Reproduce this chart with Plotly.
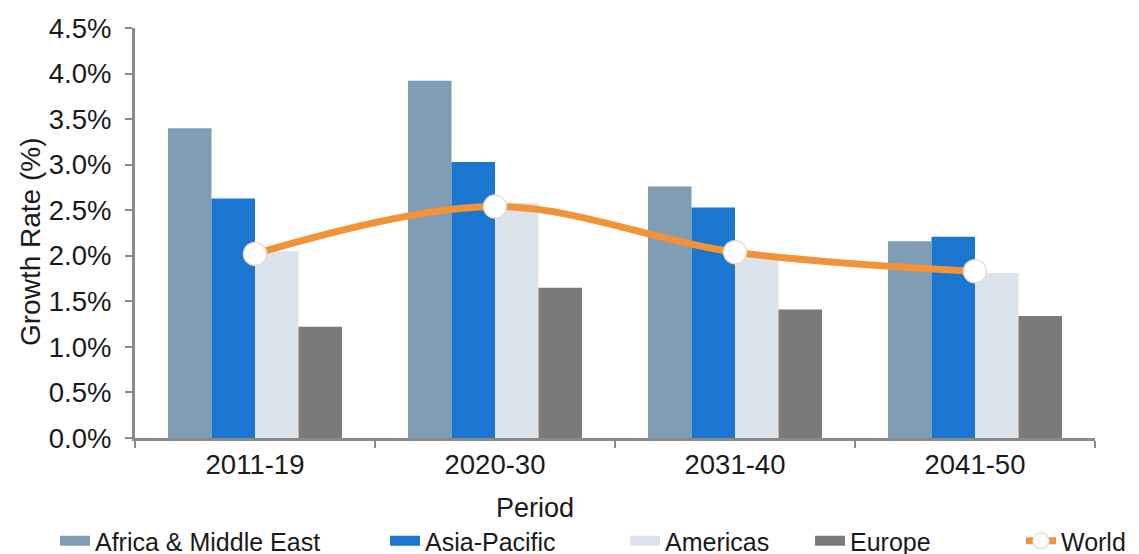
import plotly.graph_objects as go

periods = ["2011-19", "2020-30", "2031-40", "2041-50"]
africa_me = [3.40, 3.92, 2.76, 2.16]
asia_pacific = [2.63, 3.03, 2.53, 2.21]
americas = [2.05, 2.58, 2.00, 1.81]
europe = [1.22, 1.65, 1.41, 1.34]
world = [2.02, 2.54, 2.04, 1.83]
y_ticks = [0, 0.5, 1.0, 1.5, 2.0, 2.5, 3.0, 3.5, 4.0, 4.5]
y_tick_labels = ["0.0%", "0.5%", "1.0%", "1.5%", "2.0%", "2.5%", "3.0%", "3.5%", "4.0%", "4.5%"]

FONT = "Liberation Sans, Arial, sans-serif"
OFF = 8  # page body margin
W, H = 1139 - 2 * OFF, 554 - OFF
L, T = 135 - OFF, 28 - OFF
R = W - (1095 - OFF)
B = H - (438 - OFF)
PW = W - L - R
PH = H - T - B

def px_to_paper_x(px):
    return (px - OFF - L) / PW

def px_to_paper_y(py):
    return (H - B - (py - OFF)) / PH

bar_series = [
    ("Africa & Middle East", africa_me, "#7f9db4", "legend"),
    ("Asia-Pacific", asia_pacific, "#1b76cf", "legend2"),
    ("Americas", americas, "#dde3eb", "legend3"),
    ("Europe", europe, "#7a7a7a", "legend4"),
]

fig = go.Figure()
for name, vals, color, lg in bar_series:
    fig.add_trace(go.Bar(x=periods, y=vals, name=name, marker_color=color,
                         marker_line_width=0, showlegend=False))

# legend swatches (line entries so they appear as wide bars)
for name, vals, color, lg in bar_series:
    fig.add_trace(go.Scatter(x=[None], y=[None], mode="lines", name=name,
                             line=dict(color=color, width=11), legend=lg))

fig.add_trace(go.Scatter(
    x=periods, y=world, name="World", mode="lines+markers",
    line=dict(color="#f39338", width=7, shape="spline", smoothing=1.0),
    marker=dict(size=23, color="white", line=dict(color="#ecdccf", width=1.5)),
    legend="legend5"))

legend_y = 1 - (541 - OFF) / H
text_starts = [95, 425, 665, 850]
legend_keys = ["legend", "legend2", "legend3", "legend4"]
legend_cfg = {}
for key, tx in zip(legend_keys, text_starts):
    legend_cfg[key] = dict(
        xref="container", yref="container",
        x=(tx - 40 - OFF) / W, y=legend_y, xanchor="left", yanchor="middle",
        orientation="h", bgcolor="rgba(0,0,0,0)", itemwidth=30,
        font=dict(family=FONT, size=25, color="#1a1a1a"))
legend_cfg["legend5"] = dict(
    xref="container", yref="container",
    x=1.0, y=legend_y, xanchor="right", yanchor="middle",
    orientation="h", bgcolor="rgba(0,0,0,0)", itemwidth=30,
    font=dict(family=FONT, size=25, color="#1a1a1a"))

fig.update_layout(
    width=W, height=H,
    margin=dict(l=L, r=R, t=T, b=B, autoexpand=False),
    paper_bgcolor="white", plot_bgcolor="white",
    barmode="group", bargap=0.275, bargroupgap=0,
    font=dict(family=FONT, size=27, color="#1a1a1a"),
    xaxis=dict(range=[-0.5, 3.5], showline=True, linecolor="#8a8a8a", linewidth=3,
               ticks="outside", tickson="boundaries", ticklen=7, tickwidth=2,
               tickcolor="#8a8a8a", showgrid=False, zeroline=False, automargin=False,
               tickfont=dict(size=27.5, color="#1a1a1a")),
    yaxis=dict(range=[0, 4.5], tickvals=y_ticks, ticktext=y_tick_labels,
               showline=True, linecolor="#8a8a8a", linewidth=3,
               ticks="outside", ticklen=7, tickwidth=2, tickcolor="#8a8a8a",
               showgrid=False, zeroline=False, ticklabelstandoff=8, automargin=False,
               tickfont=dict(size=27.5, color="#1a1a1a")),
    annotations=[
        dict(text="Growth Rate (%)", textangle=-90, xref="paper", yref="paper",
             x=px_to_paper_x(30), y=px_to_paper_y(242), showarrow=False,
             xanchor="center", yanchor="middle", font=dict(size=28, color="#1a1a1a")),
        dict(text="Period", xref="paper", yref="paper",
             x=px_to_paper_x(535), y=px_to_paper_y(508), showarrow=False,
             xanchor="center", yanchor="middle", font=dict(size=27, color="#1a1a1a")),
    ],
    **legend_cfg,
)

fig.write_html("out.html")
